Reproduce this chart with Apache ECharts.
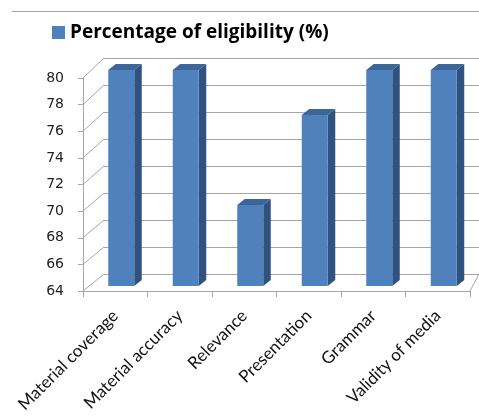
<!DOCTYPE html>
<html><head><meta charset="utf-8">
<script src="https://cdn.jsdelivr.net/npm/echarts@6/dist/echarts.min.js"></script>
<style>html,body{margin:0;padding:0;background:#fff}#c{width:479px;height:419px}</style>
</head><body><div id="c"></div>
<script>
const categories = ['Material coverage', 'Material accuracy', 'Relevance', 'Presentation', 'Grammar', 'Validity of media'];
const values = [80, 80, 70, 76.67, 80, 80];
const seriesName = 'Percentage of eligibility (%)';
const yTicks = [64, 66, 68, 70, 72, 74, 76, 78, 80];
const yMin = 64, yMax = 80, yStep = 2;

const gridLine = '#A6A6A6';
const chart = echarts.init(document.getElementById('c'), null, {renderer: 'canvas'});

const hiddenY = {type: 'value', min: yMin, max: yMax, interval: yStep, show: false};
const option = {
  animation: false,
  backgroundColor: '#fff',
  legend: {
    data: [seriesName], left: 52, top: 23, padding: 0, icon: 'rect', itemWidth: 13, itemHeight: 13,
    textStyle: {fontFamily: 'Open Sans', fontWeight: 'bold', fontSize: 19, color: '#000'}
  },
  grid: [
    {left: 83, right: 9, top: 78, bottom: 128},
    {left: 104, right: -12, top: 58, bottom: 145},
    {left: 89, right: 3, top: 70, bottom: 133}
  ],
  xAxis: [
    {gridIndex: 0, type: 'category', data: categories,
     axisLine: {lineStyle: {color: gridLine}},
     axisTick: {show: true, length: 6, lineStyle: {color: gridLine}},
     axisLabel: {rotate: 45, margin: 22, interval: 0, fontFamily: 'Lato', fontSize: 17, color: '#111'}},
    {gridIndex: 1, type: 'category', data: categories, show: false},
    {gridIndex: 2, type: 'category', data: categories, show: false}
  ],
  yAxis: [
    {gridIndex: 0, type: 'value', min: yMin, max: yMax, interval: yStep,
     axisLine: {show: true, lineStyle: {color: gridLine}},
     axisTick: {show: true, length: 5, lineStyle: {color: gridLine}},
     splitLine: {show: false},
     axisLabel: {margin: 19, fontFamily: 'DejaVu Sans', fontSize: 14, color: '#222'}},
    {gridIndex: 1, type: 'value', min: yMin, max: yMax, interval: yStep,
     axisLine: {show: false}, axisTick: {show: false}, axisLabel: {show: false},
     splitLine: {show: true, lineStyle: {color: gridLine}}},
    Object.assign({gridIndex: 2}, hiddenY)
  ],
  series: [{
    type: 'custom', name: seriesName, xAxisIndex: 2, yAxisIndex: 2,
    itemStyle: {color: '#4F81BD'},
    data: categories.map((c, i) => [i, values[i]]),
    renderItem: function (params, api) {
      const i = api.value(0), v = api.value(1);
      const top = api.coord([i, v]), base = api.coord([i, yMin]);
      const hw = 13, dx = 7.5, dy = -6;
      const L = top[0] - hw, R = top[0] + hw, T = top[1], B = base[1];
      return {type: 'group', children: [
        {type: 'polygon', shape: {points: [[R, T], [R + dx, T + dy], [R + dx, B + dy], [R, B]]}, style: {fill: '#30527F'}},
        {type: 'polygon', shape: {points: [[L, T], [L + dx, T + dy], [R + dx, T + dy], [R, T]]}, style: {fill: '#3C659A'}},
        {type: 'rect', shape: {x: L, y: T, width: R - L, height: B - T}, style: {fill: '#4F81BD'}}
      ]};
    }
  }]
};
chart.setOption(option);

// walls: diagonals from front axis to back wall, computed via the axes
function edges(gi) {
  const a = chart.convertToPixel({gridIndex: gi}, [0, yMin]);
  const b = chart.convertToPixel({gridIndex: gi}, [1, yMin]);
  const n = categories.length - 1;
  const c = chart.convertToPixel({gridIndex: gi}, [n, yMin]);
  const band = b[0] - a[0];
  return {left: a[0] - band / 2, right: c[0] + band / 2};
}
const fe = edges(0), be = edges(1);
const g = [];
yTicks.forEach(v => {
  const yf = chart.convertToPixel({gridIndex: 0}, [0, v])[1];
  const yb = chart.convertToPixel({gridIndex: 1}, [0, v])[1];
  g.push({type: 'line', shape: {x1: fe.left, y1: yf, x2: be.left, y2: yb}, style: {stroke: gridLine, lineWidth: 1}, z: 1});
});
const yf0 = chart.convertToPixel({gridIndex: 0}, [0, yMin])[1];
const yb0 = chart.convertToPixel({gridIndex: 1}, [0, yMin])[1];
g.push({type: 'line', shape: {x1: fe.right, y1: yf0, x2: be.right, y2: yb0}, style: {stroke: gridLine, lineWidth: 1}, z: 1});
g.push({type: 'line', shape: {x1: 12, y1: 11.5, x2: 479, y2: 11.5}, style: {stroke: '#A0A0A0', lineWidth: 1}, z: 1});
chart.setOption({graphic: g});
</script>
</body></html>
